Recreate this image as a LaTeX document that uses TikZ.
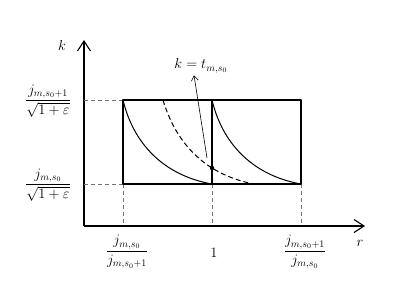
\documentclass[tikz,border=0pt]{standalone}
\usepackage{amsmath, amssymb}
\usetikzlibrary{arrows.meta, calc, positioning, intersections}
\definecolor{guidegray}{gray}{0.45}
\tikzset{
  axisline/.style  = {draw=black, line width=1.1pt,
                      -{Straight Barb[length=10pt,width=13pt,line width=1.1pt]}},
  boxline/.style   = {draw=black, line width=1.1pt},
  guideline/.style = {draw=guidegray, line width=0.7pt, dash pattern=on 4pt off 3pt},
  decay/.style     = {draw=black, line width=1pt},
  decaydash/.style = {decay, dash pattern=on 5pt off 3pt},
  lab/.style       = {font=\Large, inner sep=1pt},
  dotnode/.style   = {circle, fill=black, minimum size=4.5pt, inner sep=0pt},
  pointer/.style   = {draw=black, line width=0.6pt,
                      -{Straight Barb[length=5pt,width=7pt]}},
}

\begin{document}
\begin{tikzpicture}[x=1pt, y=-1pt, line join=round]
  \useasboundingbox (0,0) rectangle (403,306);
  % axes
  \coordinate (O) at (84,226);
  \coordinate (ktop) at (84,40);
  \coordinate (rend) at (365,226);
  \draw[axisline] (O) -- (ktop);
  \draw[axisline] (O) -- (rend);
  \node[lab] (klab) at (62,45) {$k$};
  \node[lab] (rlab) at (360,243) {$r$};
  % box corners
  \coordinate (a0) at (123,184);
  \coordinate (a1) at (123,100);
  \coordinate (b0) at (212,184);
  \coordinate (b1) at (212,100);
  \coordinate (c0) at (301,184);
  \coordinate (c1) at (301,100);
  \coordinate (d1) at (163,100);
  \coordinate (d0) at (254,184);
  % guides
  \draw[guideline] (O |- a1) -- (a1);
  \draw[guideline] (O |- a0) -- (a0);
  \foreach \p in {a0,b0,c0}{\draw[guideline] (\p) -- (\p |- O);}
  \draw[boxline] (a0) rectangle (c1);
  \draw[boxline, name path=mid] (b0) -- (b1);
  % curves
  \draw[decay] (a1) .. controls ($(a1)+(10,42)$) and ($(b0)+(-50,-9)$) .. (b0);
  \draw[decay] (b1) .. controls ($(b1)+(10,42)$) and ($(c0)+(-50,-9)$) .. (c0);
  \draw[decaydash, name path=dcurve] (d1) .. controls ($(d1)+(12,40)$) and ($(d0)+(-52,-10)$) .. (d0);
  \path[name intersections={of=mid and dcurve, by=hit}];
  \node[dotnode] (dot) at (hit) {};
  % label with pointer
  \node[lab] (tlab) at (201,66) {$k = t_{m,s_0}$};
  \coordinate (tail) at ($(dot)+(-5,-10)$);
  \draw[pointer] (tail) -- ($(tlab.south)+(-7,1)$);
  % level labels
  \node[lab] (hi) at (48,101) {$\dfrac{j_{m,s_0+1}}{\sqrt{1+\varepsilon}}$};
  \node[lab] (lo) at (48,185) {$\dfrac{j_{m,s_0}}{\sqrt{1+\varepsilon}}$};
  \node[lab] (left) at (127,252) {$\dfrac{j_{m,s_0}}{j_{m,s_0+1}}$};
  \node[lab] (one) at (214,253) {$1$};
  \node[lab] (right) at (305,252) {$\dfrac{j_{m,s_0+1}}{j_{m,s_0}}$};
\end{tikzpicture}
\end{document}
